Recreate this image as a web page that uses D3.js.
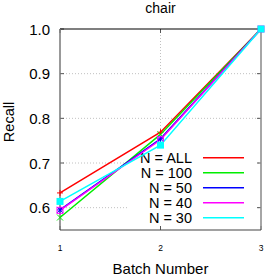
<style>body { margin: 0; } svg { display: block; }</style>
<script src="https://d3js.org/d3.v7.min.js"></script>
<svg id="chart" width="266" height="279"></svg>
<script>
  "use strict";
  const WIDTH = 266;
  const HEIGHT = 279;
  const FONT = "Liberation Sans, Arial, sans-serif";

  // data
  const batches = [1, 2, 3];
  const seriesNames = ["N = ALL", "N = 100", "N = 50", "N = 40", "N = 30"];
  const recallAll = [0.633, 0.769, 1.0];
  const recall100 = [0.578, 0.764, 1.0];
  const recall50 = [0.595, 0.754, 1.0];
  const recall40 = [0.594, 0.752, 1.0];
  const recall30 = [0.614, 0.740, 1.0];
  const yTicks = [0.6, 0.7, 0.8, 0.9, 1.0];
  const colors = ["#ff0000", "#00ee00", "#0000ff", "#ff00ff", "#00ffff"];
  const markers = ["plus", "cross", "star", "box", "fbox"];

  const allSeries = [recallAll, recall100, recall50, recall40, recall30];

  const svg = d3.select("#chart").style("background", "#fff");

  const LEFT = 60, RIGHT = 261, TOP = 29, BOTTOM = 230;
  const x = d3.scaleLinear().domain([1, 3]).range([LEFT, RIGHT]);
  const y = d3.scaleLinear().domain([0.55, 1.0]).range([BOTTOM, TOP]);

  // grid
  svg.append("g").selectAll("line")
    .data(yTicks.filter(d => d < 1))
    .enter().append("line")
    .attr("x1", LEFT).attr("x2", RIGHT)
    .attr("y1", d => y(d)).attr("y2", d => y(d))
    .attr("stroke", "#b0b0b0").attr("stroke-width", 0.8)
    .attr("stroke-dasharray", "1,2");
  svg.append("line")
    .attr("x1", x(2)).attr("x2", x(2))
    .attr("y1", TOP).attr("y2", BOTTOM)
    .attr("stroke", "#b0b0b0").attr("stroke-width", 0.8)
    .attr("stroke-dasharray", "1,2");

  // legend box (white, hides the grid)
  svg.append("rect")
    .attr("x", 128).attr("y", 149)
    .attr("width", 128).attr("height", 77)
    .attr("fill", "#fff");

  // tick marks
  const tickG = svg.append("g").attr("stroke", "#555").attr("stroke-width", 1);
  yTicks.forEach(t => {
    tickG.append("line").attr("x1", LEFT).attr("x2", LEFT + 4).attr("y1", y(t)).attr("y2", y(t));
    tickG.append("line").attr("x1", RIGHT).attr("x2", RIGHT - 4).attr("y1", y(t)).attr("y2", y(t));
  });
  batches.forEach(b => {
    tickG.append("line").attr("x1", x(b)).attr("x2", x(b)).attr("y1", BOTTOM).attr("y2", BOTTOM - 4);
    tickG.append("line").attr("x1", x(b)).attr("x2", x(b)).attr("y1", TOP).attr("y2", TOP + 4);
  });

  // border
  svg.append("line").attr("x1", LEFT).attr("x2", RIGHT).attr("y1", TOP).attr("y2", TOP)
    .attr("stroke", "#000").attr("stroke-width", 1.2);
  svg.append("line").attr("x1", LEFT).attr("x2", LEFT).attr("y1", TOP).attr("y2", BOTTOM)
    .attr("stroke", "#777").attr("stroke-width", 1.5);
  svg.append("line").attr("x1", RIGHT).attr("x2", RIGHT).attr("y1", TOP).attr("y2", BOTTOM)
    .attr("stroke", "#888").attr("stroke-width", 1.5);
  svg.append("line").attr("x1", LEFT).attr("x2", RIGHT).attr("y1", BOTTOM).attr("y2", BOTTOM)
    .attr("stroke", "#444").attr("stroke-width", 1.2);

  // tick labels
  svg.append("g").selectAll("text")
    .data(yTicks).enter().append("text")
    .attr("x", 50).attr("y", d => y(d) + 5.5)
    .attr("text-anchor", "end")
    .attr("font-family", FONT)
    .attr("font-size", 15)
    .text(d => d.toFixed(1));
  svg.append("g").selectAll("text")
    .data(batches).enter().append("text")
    .attr("x", d => x(d)).attr("y", 251)
    .attr("text-anchor", "middle")
    .attr("font-family", FONT)
    .attr("font-size", 8.5)
    .text(d => d);

  // titles
  svg.append("text").attr("x", 160.5).attr("y", 13)
    .attr("text-anchor", "middle")
    .attr("font-family", FONT)
    .attr("font-size", 14).text("chair");
  svg.append("text").attr("x", 160.5).attr("y", 273.5)
    .attr("text-anchor", "middle")
    .attr("font-family", FONT)
    .attr("font-size", 15).text("Batch Number");
  svg.append("text")
    .attr("transform", "translate(13.5,122) rotate(-90)")
    .attr("text-anchor", "middle")
    .attr("font-family", FONT)
    .attr("font-size", 14.5).text("Recall");

  // legend
  const legend = svg.append("g");
  seriesNames.forEach((name, i) => {
    const ly = 157.7 + i * 15;
    legend.append("text")
      .attr("x", 192).attr("y", ly + 5.2)
      .attr("text-anchor", "end")
      .attr("font-family", FONT)
      .attr("font-size", 14.5)
      .text(name);
    legend.append("line")
      .attr("x1", 203).attr("x2", 244)
      .attr("y1", ly).attr("y2", ly)
      .attr("stroke", colors[i]).attr("stroke-width", 1.5);
  });

  // lines
  const line = d3.line().x((d, i) => x(batches[i])).y(d => y(d));
  allSeries.forEach((s, i) => {
    svg.append("path")
      .datum(s)
      .attr("d", line)
      .attr("fill", "none")
      .attr("stroke", colors[i])
      .attr("stroke-width", 1.5);
  });

  // markers
  function drawMarker(g, type, cx, cy, color) {
    const r = 3;
    if (type === "plus" || type === "star") {
      g.append("path").attr("d", `M${cx - r},${cy}H${cx + r}M${cx},${cy - r}V${cy + r}`)
        .attr("stroke", color).attr("stroke-width", 1);
    }
    if (type === "cross" || type === "star") {
      g.append("path").attr("d", `M${cx - r},${cy - r}L${cx + r},${cy + r}M${cx - r},${cy + r}L${cx + r},${cy - r}`)
        .attr("stroke", color).attr("stroke-width", 1);
    }
    if (type === "box") {
      g.append("rect").attr("x", cx - r).attr("y", cy - r).attr("width", 2 * r).attr("height", 2 * r)
        .attr("fill", "none").attr("stroke", color).attr("stroke-width", 1);
    }
    if (type === "fbox") {
      g.append("rect").attr("x", cx - 3.5).attr("y", cy - 3.5).attr("width", 7).attr("height", 7)
        .attr("fill", color);
    }
  }
  const markG = svg.append("g");
  allSeries.forEach((s, i) => {
    s.forEach((v, j) => drawMarker(markG, markers[i], x(batches[j]), y(v), colors[i]));
  });
</script>
